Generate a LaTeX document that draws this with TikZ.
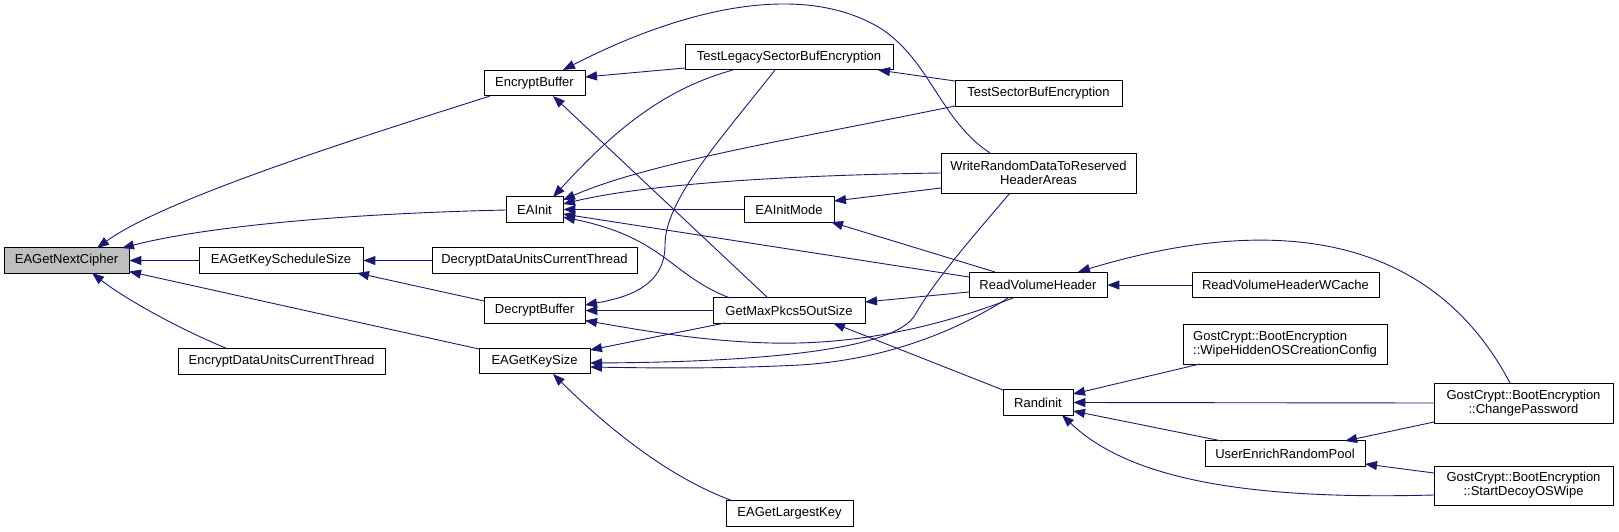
\documentclass[tikz,border=0pt]{standalone}
\usepackage{fontspec}
\setmainfont{Liberation Sans}
\usetikzlibrary{arrows.meta}
\definecolor{edgeblue}{HTML}{191970}
\definecolor{rootgray}{HTML}{BFBFBF}
\begin{document}
\begin{tikzpicture}[x=1pt,y=-1pt,
  box/.style={draw=black, fill=white, line width=0.8pt, inner sep=0pt, minimum height=25.5pt,
    font=\fontsize{13}{14}\selectfont, align=center},
  tallbox/.style={box, minimum height=40pt},
  edge/.style={draw=edgeblue, line width=0.9pt, -{Triangle[length=12pt,width=9pt]}}]
\useasboundingbox (0,0) rectangle (1619,532);
% nodes
\node[box, fill=rootgray, minimum width=125pt] (nc) at (66.5,260.5) {EAGetNextCipher};
\node[box, minimum width=164pt] (ks) at (281,260.5) {EAGetKeyScheduleSize};
\node[box, minimum width=207pt] (ed) at (281.5,361.5) {EncryptDataUnitsCurrentThread};
\node[box, minimum width=101pt] (eb) at (534.5,83) {EncryptBuffer};
\node[box, minimum width=57pt] (ei) at (534.5,209.5) {EAInit};
\node[box, minimum width=205pt] (dd) at (534.5,260.5) {DecryptDataUnitsCurrentThread};
\node[box, minimum width=101pt] (db) at (534.5,310.5) {DecryptBuffer};
\node[box, minimum width=111pt] (gk) at (534.5,361) {EAGetKeySize};
\node[box, minimum width=208pt] (tl) at (789,57) {TestLegacySectorBufEncryption};
\node[box, minimum width=90pt] (im) at (789,209.5) {EAInitMode};
\node[box, minimum width=152pt] (gm) at (789,310.5) {GetMaxPkcs5OutSize};
\node[box, minimum width=127pt] (gl) at (789.5,513.5) {EAGetLargestKey};
\node[box, minimum width=167pt] (ts) at (1038.5,93.5) {TestSectorBufEncryption};
\node[tallbox, minimum width=195pt] (wr) at (1038.5,173) {WriteRandomDataToReserved\\HeaderAreas};
\node[box, minimum width=138pt] (rv) at (1038,285) {ReadVolumeHeader};
\node[box, minimum width=70pt] (ri) at (1038,402.5) {Randinit};
\node[box, minimum width=187pt] (rc) at (1285.5,285) {ReadVolumeHeaderWCache};
\node[tallbox, minimum width=204pt, align=left] (wp) at (1285,344) {GostCrypt::BootEncryption\\::WipeHiddenOSCreationConfig};
\node[box, minimum width=160pt] (ue) at (1285,453.5) {UserEnrichRandomPool};
\node[tallbox, minimum width=179pt] (cp) at (1523.5,403) {GostCrypt::BootEncryption\\::ChangePassword};
\node[tallbox, minimum width=179pt, minimum height=39pt] (sd) at (1523.5,485.5) {GostCrypt::BootEncryption\\::StartDecoyOSWipe};
% edges (caller -> callee)
\draw[edge] ([shift={(-44.5,13)}]eb.center) .. controls (400,125) and (170,195) .. ([shift={(30.5,-12.5)}]nc.center);
\draw[edge] ([shift={(-28.5,0.5)}]ei.center) .. controls (330,214) and (200,228) .. ([shift={(55.5,-12.5)}]nc.center);
\draw[edge] (ks.west) -- (nc.east);
\draw[edge] ([shift={(-55.5,-12)}]gk.center) -- ([shift={(62.5,11)}]nc.center);
\draw[edge] ([shift={(-53.5,-12.5)}]ed.center) .. controls (170,325) and (120,295) .. ([shift={(25.5,12.5)}]nc.center);
\draw[edge] ([shift={(-104,11)}]tl.center) -- ([shift={(50.5,-6)}]eb.center);
\draw[edge] ([shift={(-48.5,-20)}]wr.center) .. controls (940,120) and (930,60) .. (880,28) .. controls (800,-20) and (680,10) .. ([shift={(28.5,-13)}]eb.center);
\draw[edge] ([shift={(-21,-12.5)}]gm.center) -- ([shift={(18.5,13)}]eb.center);
\draw[edge] ([shift={(-56,13)}]tl.center) .. controls (660,90) and (610,135) .. ([shift={(18.5,-12.5)}]ei.center);
\draw[edge] ([shift={(-83.5,12.5)}]ts.center) .. controls (800,138) and (650,162) .. ([shift={(28.5,-9.5)}]ei.center);
\draw[edge] ([shift={(-97.5,0)}]wr.center) .. controls (800,175) and (650,183) .. ([shift={(28.5,-5.5)}]ei.center);
\draw[edge] (im.west) -- (ei.east);
\draw[edge] ([shift={(-69,-8)}]rv.center) -- ([shift={(28.5,4.5)}]ei.center);
\draw[edge] ([shift={(-59,-12.5)}]gm.center) .. controls (670,275) and (665,238) .. ([shift={(28.5,7.5)}]ei.center);
\draw[edge] ([shift={(-97.5,15)}]wr.center) -- ([shift={(45,-8.5)}]im.center);
\draw[edge] ([shift={(-43,-13)}]rv.center) -- ([shift={(42,12.5)}]im.center);
\draw[edge] (dd.west) -- (ks.east);
\draw[edge] ([shift={(-50.5,-9.5)}]db.center) -- ([shift={(76,12.5)}]ks.center);
\draw[edge] ([shift={(-14,13)}]tl.center) .. controls (720,140) and (665,200) .. (665,245) .. controls (665,285) and (630,297) .. ([shift={(50.5,-5.5)}]db.center);
\draw[edge] (gm.west) -- (db.east);
\draw[edge] ([shift={(-25,13)}]rv.center) .. controls (930,330) and (850,345) .. (770,343) .. controls (700,341) and (640,330) .. ([shift={(50.5,10)}]db.center);
\draw[edge] ([shift={(-64,12.5)}]gm.center) -- ([shift={(55.5,-11)}]gk.center);
\draw[edge] ([shift={(-28.5,20)}]wr.center) .. controls (970,240) and (935,280) .. (915,315) .. controls (895,350) and (760,362) .. ([shift={(55.5,2)}]gk.center);
\draw[edge] ([shift={(-30,13)}]rv.center) .. controls (950,335) and (880,360) .. (800,365) .. controls (720,369) and (650,368) .. ([shift={(55.5,6)}]gk.center);
\draw[edge] ([shift={(-56.5,-12.5)}]gl.center) .. controls (670,478) and (610,430) .. ([shift={(18.5,13)}]gk.center);
\draw[edge] ([shift={(-83.5,-12.5)}]ts.center) -- ([shift={(89,13)}]tl.center);
\draw[edge] ([shift={(-69,7)}]rv.center) -- ([shift={(76,-8.5)}]gm.center);
\draw[edge] ([shift={(-35,-12.5)}]ri.center) -- ([shift={(44,12.5)}]gm.center);
\draw[edge] (rc.west) -- (rv.east);
\draw[edge] ([shift={(-13.5,-20)}]cp.center) .. controls (1440,250) and (1300,205) .. ([shift={(40,-13)}]rv.center);
\draw[edge] ([shift={(-85,20)}]wp.center) -- ([shift={(35,-8.5)}]ri.center);
\draw[edge] (cp.west) -- (ri.east);
\draw[edge] ([shift={(-63,-12.5)}]ue.center) -- ([shift={(35,8.5)}]ri.center);
\draw[edge] ([shift={(-89.5,9.5)}]sd.center) .. controls (1250,500) and (1130,480) .. ([shift={(24,12.5)}]ri.center);
\draw[edge] ([shift={(-89.5,19)}]cp.center) -- ([shift={(60,-12.5)}]ue.center);
\draw[edge] ([shift={(-89.5,-12.5)}]sd.center) -- ([shift={(80,10.5)}]ue.center);
\end{tikzpicture}
\end{document}
